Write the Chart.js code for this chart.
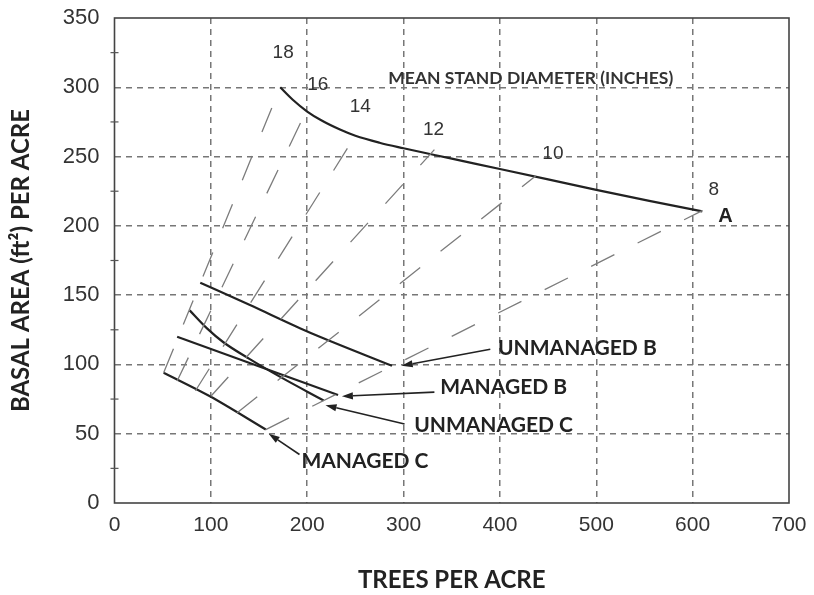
<!DOCTYPE html>
<html><head><meta charset="utf-8">
<script src="https://cdn.jsdelivr.net/npm/chart.js@4/dist/chart.umd.min.js"></script>
<style>html,body{margin:0;padding:0;background:#fff}canvas{display:block}</style>
</head><body>
<canvas id="c" width="814" height="595"></canvas>
<script>
// ---- tick values ----
const xTicks = [0,100,200,300,400,500,600,700];
const yTicks = [0,50,100,150,200,250,300,350];
const yMinorTicks = [25,75,125,175,225,275,325];

// ---- curve A (max density line) ----
const curveATPA = [172,185,200,215,234,250,275,300,350,400,450,500,555,610];
const curveABA  = [300,291,282.5,276,269.5,265,260,256,248.5,241,233.5,226,218,210.5];

// ---- management lines ----
const unmanagedBTPA = [89,140,193,213,288];
const unmanagedBBA  = [159,143,126,120,99];
const managedBTPA   = [65,232];
const managedBBA    = [120,78];
const unmanagedCTPA = [78,96,113,140,172,217];
const unmanagedCBA  = [139,126,116,104,91,74];
const managedCTPA   = [51,99,157];
const managedCBA    = [94,77,53];

// ---- mean stand diameter lines (dashed) ----
const diameters   = ['18','16','14','12','10','8'];
const rayStartTPA = [51,65,84,100,127,157];
const rayStartBA  = [94,88,81,77,65,53];
const rayEndTPA   = [172,199,249,332,437,610];
const rayEndBA    = [300,283,264,255,236,211];
const diamLabelTPA = [175,211,255,331,455,622];
const diamLabelBA  = [325,302,286,269,252,226];

// ---- arrow annotations ----
const arrowLabels  = ['UNMANAGED B','MANAGED B','UNMANAGED C','MANAGED C'];
const arrowTailTPA = [390,332,301,192];
const arrowTailBA  = [111,80,57,35];
const arrowHeadTPA = [298,236,219,160];
const arrowHeadBA  = [99,77,70.5,50];
const labelTPA     = [398,338,311,194];
const labelBA      = [112,83.5,56.3,30.4];

const pts = (xs, ys) => xs.map((v,i) => ({x:v, y:ys[i]}));

const solid = (label, xs, ys) => ({
  label, data: pts(xs, ys), showLine: true, borderColor: '#222', borderWidth: 2.2,
  pointRadius: 0, cubicInterpolationMode: 'monotone', fill: false
});

const datasets = [];
diameters.forEach((d,i) => {
  datasets.push({
    label: d + ' in', data: pts([rayStartTPA[i], rayEndTPA[i]], [rayStartBA[i], rayEndBA[i]]),
    showLine: true, borderColor: '#7c7c7c', borderWidth: 1.3, borderDash: [26,26],
    pointRadius: 0, fill: false
  });
});
datasets.push(solid('A', curveATPA, curveABA));
datasets.push(solid('Unmanaged B', unmanagedBTPA, unmanagedBBA));
datasets.push(solid('Managed B', managedBTPA, managedBBA));
datasets.push(solid('Unmanaged C', unmanagedCTPA, unmanagedCBA));
datasets.push(solid('Managed C', managedCTPA, managedCBA));

const annot = {
  id: 'annot',
  afterDatasetsDraw(chart) {
    const {ctx, chartArea: a, scales: {x, y}} = chart;
    ctx.save();
    // frame
    ctx.strokeStyle = '#444'; ctx.lineWidth = 1.6; ctx.setLineDash([]);
    ctx.strokeRect(a.left, a.top, a.right - a.left, a.bottom - a.top);
    // minor ticks
    ctx.lineWidth = 1.2; ctx.strokeStyle = '#555';
    yMinorTicks.forEach(v => {
      const py = y.getPixelForValue(v);
      ctx.beginPath(); ctx.moveTo(a.left - 4, py); ctx.lineTo(a.left + 4, py); ctx.stroke();
    });
    // arrows
    ctx.strokeStyle = '#222'; ctx.fillStyle = '#222'; ctx.lineWidth = 1.6;
    arrowLabels.forEach((t,i) => {
      const x1 = x.getPixelForValue(arrowTailTPA[i]), y1 = y.getPixelForValue(arrowTailBA[i]);
      const x2 = x.getPixelForValue(arrowHeadTPA[i]), y2 = y.getPixelForValue(arrowHeadBA[i]);
      const ang = Math.atan2(y2 - y1, x2 - x1);
      const L = 11, W = 3.6;
      const bx = x2 - L * Math.cos(ang), by = y2 - L * Math.sin(ang);
      ctx.beginPath(); ctx.moveTo(x1, y1); ctx.lineTo(bx, by); ctx.stroke();
      ctx.beginPath();
      ctx.moveTo(x2, y2);
      ctx.lineTo(bx + W * Math.sin(ang), by - W * Math.cos(ang));
      ctx.lineTo(bx - W * Math.sin(ang), by + W * Math.cos(ang));
      ctx.closePath(); ctx.fill();
    });
    // arrow labels
    ctx.font = 'bold 21px Lato'; ctx.textAlign = 'left'; ctx.textBaseline = 'middle';
    ctx.fillStyle = '#222';
    arrowLabels.forEach((t,i) => {
      ctx.fillText(t, x.getPixelForValue(labelTPA[i]), y.getPixelForValue(labelBA[i]));
    });
    // diameter labels
    ctx.font = '19px "Liberation Sans"'; ctx.textAlign = 'center'; ctx.fillStyle = '#333';
    diameters.forEach((d,i) => {
      ctx.fillText(d, x.getPixelForValue(diamLabelTPA[i]), y.getPixelForValue(diamLabelBA[i]));
    });
    ctx.font = 'bold 20px "Liberation Sans"'; ctx.fillStyle = '#222';
    ctx.fillText('A', x.getPixelForValue(634), y.getPixelForValue(207));
    ctx.font = 'bold 17.5px Lato'; ctx.fillStyle = '#333';
    ctx.fillText('MEAN STAND DIAMETER (INCHES)', x.getPixelForValue(432), y.getPixelForValue(306.5));
    ctx.restore();
  }
};

new Chart(document.getElementById('c'), {
  type: 'scatter',
  data: { datasets },
  options: {
    responsive: false, animation: false, devicePixelRatio: 1,
    layout: { padding: { left: 0, right: 25, top: 18, bottom: 0 } },
    plugins: { legend: { display: false }, tooltip: { enabled: false } },
    scales: {
      x: {
        type: 'linear', min: 0, max: 700,
        afterFit: s => { s.height = 92; s.paddingLeft = 0; s.paddingRight = 0; },
        afterBuildTicks: s => { s.ticks = xTicks.map(v => ({value: v})); },
        ticks: { font: { family: 'Liberation Sans', size: 21 }, color: '#333', padding: 10, maxRotation: 0 },
        grid: { drawTicks: false, lineWidth: 1.5,
                color: c => (c.tick && (c.tick.value === 0 || c.tick.value === 700)) ? 'rgba(0,0,0,0)' : '#777' },
        border: { display: false, dash: [6,5] },
        title: { display: true, text: 'TREES PER ACRE', font: { family: 'Lato', size: 24, weight: 'bold' },
                 color: '#222', padding: { top: 0, bottom: 0 } }
      },
      y: {
        type: 'linear', min: 0, max: 350,
        afterFit: s => { s.width = 114.5; s.paddingTop = 0; s.paddingBottom = 0; },
        afterBuildTicks: s => { s.ticks = yTicks.map(v => ({value: v})); },
        ticks: { font: { family: 'Liberation Sans', size: 22 }, color: '#333', padding: 15 },
        grid: { drawTicks: false, lineWidth: 1.5,
                color: c => (c.tick && (c.tick.value === 0 || c.tick.value === 350)) ? 'rgba(0,0,0,0)' : '#777' },
        border: { display: false, dash: [6,5] },
        title: { display: true, text: 'BASAL AREA (ft²) PER ACRE', font: { family: 'Lato', size: 24, weight: 'bold' },
                 color: '#222', padding: { top: 7, bottom: 0 } }
      }
    }
  },
  plugins: [annot]
});
</script>
</body></html>
